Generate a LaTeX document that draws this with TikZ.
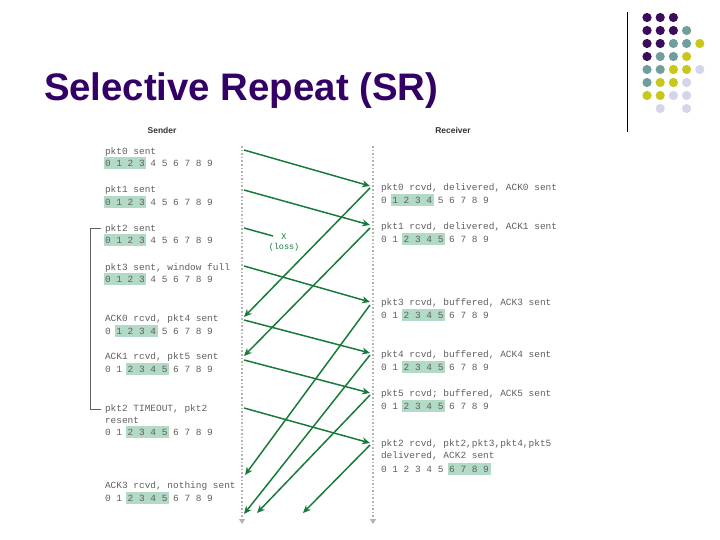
\documentclass[tikz,border=0pt]{standalone}
\usepackage{fontspec}
\setmainfont{Liberation Sans}
\setmonofont{Liberation Mono}
\usetikzlibrary{arrows.meta,positioning}
\definecolor{titlepurple}{RGB}{51,0,102}
\definecolor{textgray}{RGB}{95,95,95}
\definecolor{arrowgreen}{RGB}{24,122,58}
\definecolor{winfill}{RGB}{178,218,198}
\definecolor{dotP}{RGB}{60,12,92}
\definecolor{dotT}{RGB}{112,158,158}
\definecolor{dotY}{RGB}{200,200,28}
\definecolor{dotL}{RGB}{212,212,234}
% one row of sequence numbers with its window: name, x, baseline, first, last
\newcommand\seqrow[5]{%
  \fill[winfill] ({#2+11.4*#4-1.5},{#3-9.5}) rectangle ({#2+11.4*#5+7.2},{#3+2.5});
  \node[evt] (#1) at (#2,#3) {0 1 2 3 4 5 6 7 8 9};}

\begin{document}
\begin{tikzpicture}[x=1bp, y=-1bp,
    every node/.style={inner sep=0pt, outer sep=0pt},
    evt/.style={anchor=base west, align=left, text=textgray, font=\fontsize{9.5}{12}\selectfont\ttfamily},
    hdr/.style={text=black!80, font=\fontsize{8.5}{10}\selectfont\bfseries},
    timeline/.style={draw=gray!60, dotted, line width=1.6pt, -{Triangle[length=5pt, width=6pt]}},
    msg/.style={draw=arrowgreen, line width=1.5pt, -{Stealth[length=8pt, width=7pt]}}]
  \useasboundingbox (0,0) rectangle (720,540);

  \node[anchor=base west, text=titlepurple, font=\fontsize{38.5}{40}\selectfont\bfseries] (title) at (44,101) {Selective Repeat (SR)};
  \draw[line width=0.8pt] (627,12) -- (627,132);
  \foreach \c/\r/\col in {1/1/dotP,2/1/dotP,3/1/dotP,
      1/2/dotP,2/2/dotP,3/2/dotP,4/2/dotT,
      1/3/dotP,2/3/dotP,3/3/dotT,4/3/dotT,5/3/dotY,
      1/4/dotP,2/4/dotT,3/4/dotT,4/4/dotY,
      1/5/dotT,2/5/dotT,3/5/dotY,4/5/dotY,5/5/dotL,
      1/6/dotT,2/6/dotY,3/6/dotY,4/6/dotL,
      1/7/dotY,2/7/dotY,3/7/dotL,4/7/dotL,
      2/8/dotL,4/8/dotL}
    \fill[\col] ({647+13.2*(\c-1)},{17.5+13*(\r-1)}) circle (4.6);

  \node[hdr] (sender) at (162,130) {Sender};
  \node[hdr] (receiver) at (453,130) {Receiver};
  \coordinate (stop) at (242,146);
  \coordinate (sbot) at (242,524);
  \coordinate (rtop) at (373,146);
  \coordinate (rbot) at (373,524);
  \draw[timeline] (stop) -- (sbot);
  \draw[timeline] (rtop) -- (rbot);

  % sender side
  \node[evt] (s0) at (105,154.5) {pkt0 sent};
  \seqrow{w0}{105}{166.5}{0}{3}
  \node[evt] (s1) at (105,192.5) {pkt1 sent};
  \seqrow{w1}{105}{205.5}{0}{3}
  \node[evt] (s2) at (105,231.5) {pkt2 sent};
  \seqrow{w2}{105}{243.5}{0}{3}
  \node[evt] (s3) at (105,270.5) {pkt3 sent, window full};
  \seqrow{w3}{105}{282.5}{0}{3}
  \node[evt] (s4) at (105,321.5) {ACK0 rcvd, pkt4 sent};
  \seqrow{w4}{105}{334}{1}{4}
  \node[evt] (s5) at (105,359.5) {ACK1 rcvd, pkt5 sent};
  \seqrow{w5}{105}{372.5}{2}{5}
  \node[evt] (s6) at (105,423.5) {pkt2 TIMEOUT, pkt2\\resent};
  \seqrow{w6}{105}{435.5}{2}{5}
  \node[evt] (s7) at (105,488.5) {ACK3 rcvd, nothing sent};
  \seqrow{w7}{105}{501.5}{2}{5}
  \draw[textgray, line width=0.6pt] (101,228) -- (90,228) -- (90,409) -- (101,409);

  % receiver side
  \node[evt] (r0) at (381,190.5) {pkt0 rcvd, delivered, ACK0 sent};
  \seqrow{v0}{381}{203.5}{1}{4}
  \node[evt] (r1) at (381,229.5) {pkt1 rcvd, delivered, ACK1 sent};
  \seqrow{v1}{381}{242.5}{2}{5}
  \node[evt] (r3) at (381,305.5) {pkt3 rcvd, buffered, ACK3 sent};
  \seqrow{v3}{381}{318.5}{2}{5}
  \node[evt] (r4) at (381,357.5) {pkt4 rcvd, buffered, ACK4 sent};
  \seqrow{v4}{381}{370.5}{2}{5}
  \node[evt] (r5) at (381,396.5) {pkt5 rcvd; buffered, ACK5 sent};
  \seqrow{v5}{381}{409.5}{2}{5}
  \node[evt] (r2) at (381,458.5) {pkt2 rcvd, pkt2,pkt3,pkt4,pkt5\\delivered, ACK2 sent};
  \seqrow{v2}{381}{472.5}{6}{9}

  % packets
  \coordinate (p0s) at (244,150);  \coordinate (p0r) at (370,186);
  \coordinate (p1s) at (244,190);  \coordinate (p1r) at (370,225);
  \coordinate (p2s) at (244,228);  \coordinate (lost) at (273,236);
  \coordinate (p3s) at (244,266);  \coordinate (p3r) at (370,302);
  \coordinate (p4s) at (244,320);  \coordinate (p4r) at (370,353);
  \coordinate (p5s) at (244,360);  \coordinate (p5r) at (370,393);
  \coordinate (p2bs) at (244,408); \coordinate (p2br) at (370,443);
  \draw[msg] (p0s) -- (p0r);
  \draw[msg] (p1s) -- (p1r);
  \draw[msg, -] (p2s) -- (lost);
  \draw[msg] (p3s) -- (p3r);
  \draw[msg] (p4s) -- (p4r);
  \draw[msg] (p5s) -- (p5r);
  \draw[msg] (p2bs) -- (p2br);
  \node[text=arrowgreen, font=\fontsize{8.5}{10}\selectfont\ttfamily, align=center] (loss) at (284,243) {X\\(loss)};

  % acks
  \coordinate (a0r) at (370,188); \coordinate (a0s) at (244,317);
  \coordinate (a1r) at (370,228); \coordinate (a1s) at (244,356);
  \coordinate (a3r) at (370,305); \coordinate (a3s) at (245,475);
  \coordinate (a4r) at (370,355); \coordinate (a4s) at (244,514);
  \coordinate (a5r) at (370,395); \coordinate (a5s) at (257,513);
  \coordinate (a2r) at (370,445); \coordinate (a2s) at (303,513);
  \foreach \k in {0,1,3,4,5,2}
    \draw[msg] (a\k r) -- (a\k s);
\end{tikzpicture}
\end{document}
